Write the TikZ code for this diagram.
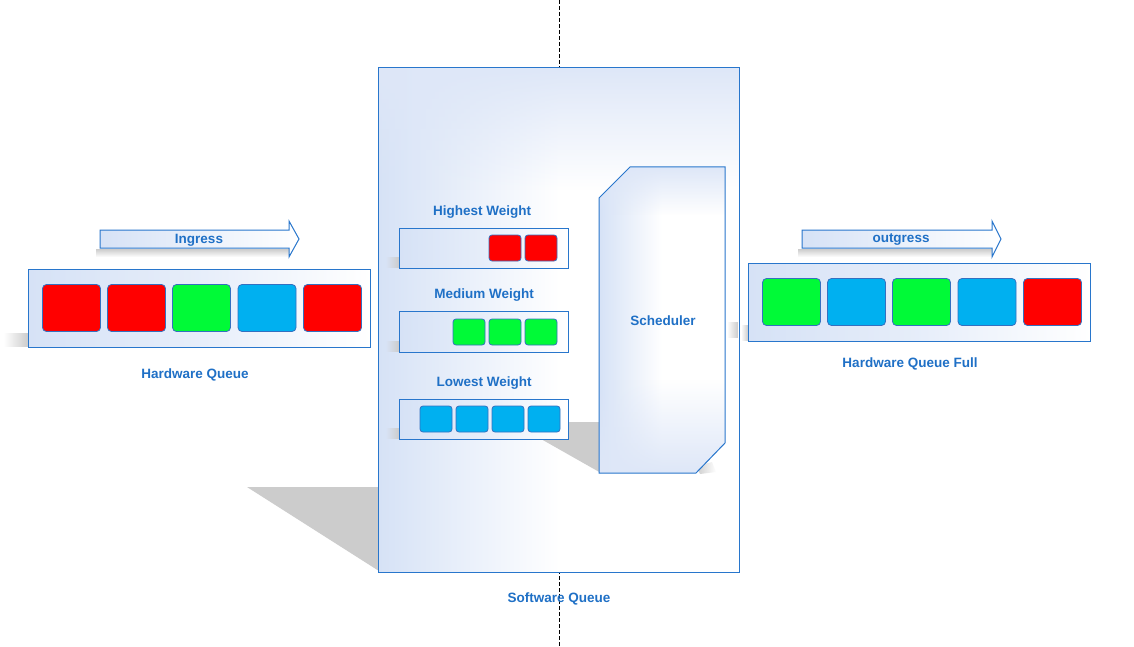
\documentclass[tikz,border=0pt]{standalone}
\usepackage{fontspec}
\setmainfont{Liberation Sans}
\usetikzlibrary{fadings,shadings}
\definecolor{edge}{RGB}{40,118,204}
\definecolor{txt}{RGB}{31,112,198}
\definecolor{qbg}{RGB}{214,226,246}
\definecolor{qbgl}{RGB}{222,231,248}
\definecolor{cred}{RGB}{255,0,0}
\definecolor{cgreen}{RGB}{0,250,55}
\definecolor{cblue}{RGB}{0,176,240}
\definecolor{sqedge}{RGB}{52,112,192}
\definecolor{shad}{RGB}{204,204,204}
\begin{document}
\begin{tikzpicture}[x=1pt,y=-1pt,
  lbl/.style={text=txt,font=\fontsize{13.5}{15}\selectfont\bfseries,inner sep=0pt},
  qbar/.style={draw=edge,line width=1pt,left color=qbg,right color=white,middle color=white!40!qbg,inner sep=0pt},
  sq/.style={draw=sqedge,line width=0.8pt,rounded corners=4pt,inner sep=0pt,minimum width=58pt,minimum height=47pt},
  ssq/.style={draw=sqedge,line width=0.8pt,rounded corners=3pt,inner sep=0pt,minimum width=32pt,minimum height=26pt},
  softshadow/.style={fill=shad,path fading=west},
  arrowshape/.style={draw=edge,line width=1pt,left color=qbg,right color=white}]
\useasboundingbox (0,0) rectangle (1134,647);
\fill[white] (0,0) rectangle (1134,647);

% dashed centre line
\coordinate (dtop) at (559,0);
\coordinate (dbot) at (559,647);
\draw[black,line width=0.8pt,dash pattern=on 4pt off 2pt] (dtop) -- (dbot);

% big shadow of the software queue
\fill[shad] (247,487) -- (379,487) -- (379,571) -- cycle;

% software queue box
\node[fill=white,inner sep=0pt,minimum width=360pt,minimum height=504pt] (sw) at (559,320) {};
\shade[left color=qbg,right color=white] (sw.north west) rectangle (560,572);
\fill[qbgl,path fading=south] (sw.north west) rectangle (739,190);
\draw[edge,line width=1pt] (sw.north west) rectangle (sw.south east);
\node[lbl] (swl) at (559,599) {Software Queue};

% scheduler shadow
\fill[shad] (511,422) -- (599,422) -- (599,473) -- (601,473) -- cycle;
\fill[shad,path fading=east] (696,466) -- (712,462) -- (716,472) -- (700,474) -- cycle;

% small shadows of the weight bars
\fill[softshadow] (386,257) rectangle (399,268);
\fill[softshadow] (386,341) rectangle (399,352);
\fill[softshadow] (386,428) rectangle (399,439);

% weight bars
\node[lbl] (hw) at (482,212) {Highest Weight};
\node[qbar,minimum width=169pt,minimum height=40pt] (hbar) at (484,248.5) {};
\node[ssq,fill=cred] (h1) at (505,248) {};
\node[ssq,fill=cred] (h2) at (541,248) {};

\node[lbl] (mw) at (484,295) {Medium Weight};
\node[qbar,minimum width=169pt,minimum height=41pt] (mbar) at (484,331.5) {};
\node[ssq,fill=cgreen] (m1) at (469,332) {};
\node[ssq,fill=cgreen] (m2) at (505,332) {};
\node[ssq,fill=cgreen] (m3) at (541,332) {};

\node[lbl] (lw) at (484,383) {Lowest Weight};
\node[qbar,minimum width=169pt,minimum height=40pt] (lbar) at (484,419) {};
\node[ssq,fill=cblue] (l1) at (436,419) {};
\node[ssq,fill=cblue] (l2) at (472,419) {};
\node[ssq,fill=cblue] (l3) at (508,419) {};
\node[ssq,fill=cblue] (l4) at (544,419) {};

% scheduler
\path[left color=qbg,right color=white,middle color=white]
  (599,198) -- (630,167) -- (725,167) -- (725,443) -- (696,473) -- (599,473) -- cycle;
\begin{scope}
  \clip (599,198) -- (630,167) -- (725,167) -- (725,443) -- (696,473) -- (599,473) -- cycle;
  \fill[qbgl,path fading=north] (599,380) rectangle (725,473);
  \fill[qbgl,path fading=south] (599,167) rectangle (725,215);
\end{scope}
\draw[edge,line width=1pt]
  (599,198) -- (630,167) -- (725,167) -- (725,443) -- (696,473) -- (599,473) -- cycle;
\node[lbl] (sched) at (663,321) {Scheduler};

% shadows at the right of the scheduler and left of the full queue
\fill[softshadow] (727,322) rectangle (738,338);
\fill[softshadow] (741,325) rectangle (748,341);

% left hardware queue
\fill[softshadow] (4,333) rectangle (28,347);
\fill[shad,path fading=south] (96,249) rectangle (289,257);
\path[arrowshape] (100,230) -- (289,230) -- (289,221) -- (299,239) -- (289,257) -- (289,248) -- (100,248) -- cycle;
\node[lbl] (ing) at (199,240) {Ingress};
\node[qbar,minimum width=342pt,minimum height=78pt] (hq) at (199.5,308) {};
\node[sq,fill=cred] (a1) at (71.5,308) {};
\node[sq,fill=cred] (a2) at (136.5,308) {};
\node[sq,fill=cgreen] (a3) at (201.5,308) {};
\node[sq,fill=cblue] (a4) at (267,308) {};
\node[sq,fill=cred] (a5) at (332.5,308) {};
\node[lbl] (hql) at (195,375) {Hardware Queue};

% right hardware queue
\fill[shad,path fading=south] (798,249) rectangle (992,257);
\path[arrowshape] (802,230) -- (992,230) -- (992,221) -- (1001,239) -- (992,257) -- (992,248) -- (802,248) -- cycle;
\node[lbl] (outg) at (901,240) {outgress};
\node[qbar,minimum width=342pt,minimum height=78pt] (hqf) at (919.5,302) {};
\node[sq,fill=cgreen] (b1) at (791.5,302) {};
\node[sq,fill=cblue] (b2) at (856.5,302) {};
\node[sq,fill=cgreen] (b3) at (921.5,302) {};
\node[sq,fill=cblue] (b4) at (987,302) {};
\node[sq,fill=cred] (b5) at (1052.5,302) {};
\node[lbl] (hqfl) at (910,364) {Hardware Queue Full};
\end{tikzpicture}
\end{document}
